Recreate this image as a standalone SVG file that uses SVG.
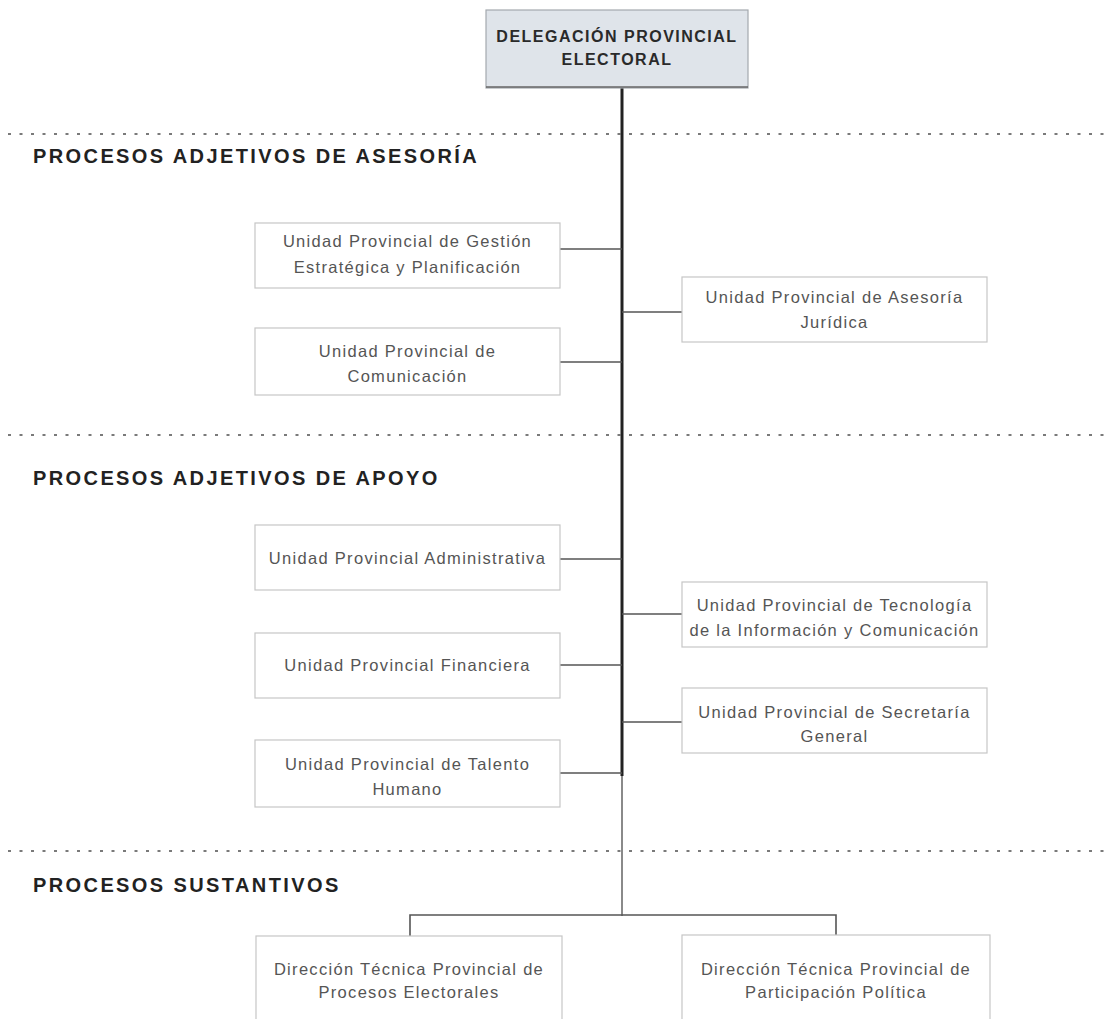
<svg xmlns="http://www.w3.org/2000/svg" width="1110" height="1019" viewBox="0 0 1110 1019">
<style>
.bg{fill:#ffffff}
.box{fill:#ffffff;stroke:#c6c6c6;stroke-width:1.2}
.top{fill:#dfe4ea;stroke:#a4a9ae;stroke-width:1.2}
.t{font-family:"Liberation Sans",Arial,sans-serif;font-size:16.5px;letter-spacing:1.3px;fill:#555;text-anchor:middle}
.tb{font-family:"Liberation Sans",Arial,sans-serif;font-size:16px;font-weight:bold;letter-spacing:1.5px;fill:#2a2a2a;text-anchor:middle}
.h{font-family:"Liberation Sans",Arial,sans-serif;font-size:20px;font-weight:bold;letter-spacing:2.4px;fill:#222}
.div{stroke:#7a7a7a;stroke-width:2;stroke-dasharray:3 8.5;fill:none}
.c{stroke:#555;stroke-width:1.6;fill:none}
.main{stroke:#222;stroke-width:3;fill:none}
.main2{stroke:#8a8a8a;stroke-width:2;fill:none}
</style>
<rect class="bg" x="0" y="0" width="1110" height="1019"/>

<g id="dividers">
<line class="div" x1="8" y1="134" x2="1110" y2="134"/>
<line class="div" x1="8" y1="435" x2="1110" y2="435"/>
<line class="div" x1="8" y1="851" x2="1110" y2="851"/>
</g>

<g id="section-titles">
<text class="h" x="33" y="163">PROCESOS ADJETIVOS DE ASESORÍA</text>
<text class="h" x="33" y="485">PROCESOS ADJETIVOS DE APOYO</text>
<text class="h" x="33" y="892">PROCESOS SUSTANTIVOS</text>
</g>

<g id="connectors">
<line class="main" x1="622" y1="88" x2="622" y2="776"/>
<line class="main2" x1="622" y1="776" x2="622" y2="916"/>
<line class="c" x1="560" y1="249" x2="622" y2="249"/>
<line class="c" x1="622" y1="312" x2="682" y2="312"/>
<line class="c" x1="560" y1="362" x2="622" y2="362"/>
<line class="c" x1="560" y1="559" x2="622" y2="559"/>
<line class="c" x1="622" y1="614" x2="682" y2="614"/>
<line class="c" x1="560" y1="665" x2="622" y2="665"/>
<line class="c" x1="622" y1="722" x2="682" y2="722"/>
<line class="c" x1="560" y1="773" x2="622" y2="773"/>
<polyline class="c" points="410,936 410,915 836,915 836,935"/>
</g>

<g id="n-delegacion">
<rect class="top" x="486" y="10" width="262" height="78"/>
<line x1="486" y1="87" x2="748" y2="87" stroke="#666" stroke-width="1.5"/>
<text class="tb" x="617" y="42">DELEGACIÓN PROVINCIAL</text>
<text class="tb" x="617" y="65">ELECTORAL</text>
</g>

<g id="n-gestion">
<rect class="box" x="255" y="223" width="305" height="65"/>
<text class="t" x="407.5" y="247">Unidad Provincial de Gestión</text>
<text class="t" x="407.5" y="273">Estratégica y Planificación</text>
</g>

<g id="n-comunicacion">
<rect class="box" x="255" y="328" width="305" height="67"/>
<text class="t" x="407.5" y="357">Unidad Provincial de</text>
<text class="t" x="407.5" y="382">Comunicación</text>
</g>

<g id="n-juridica">
<rect class="box" x="682" y="277" width="305" height="65"/>
<text class="t" x="834.5" y="303">Unidad Provincial de Asesoría</text>
<text class="t" x="834.5" y="328">Jurídica</text>
</g>

<g id="n-administrativa">
<rect class="box" x="255" y="525" width="305" height="65"/>
<text class="t" x="407.5" y="564">Unidad Provincial Administrativa</text>
</g>

<g id="n-tecnologia">
<rect class="box" x="682" y="582" width="305" height="65"/>
<text class="t" x="834.5" y="611">Unidad Provincial de Tecnología</text>
<text class="t" x="834.5" y="636">de la Información y Comunicación</text>
</g>

<g id="n-financiera">
<rect class="box" x="255" y="633" width="305" height="65"/>
<text class="t" x="407.5" y="671">Unidad Provincial Financiera</text>
</g>

<g id="n-secretaria">
<rect class="box" x="682" y="688" width="305" height="65"/>
<text class="t" x="834.5" y="718">Unidad Provincial de Secretaría</text>
<text class="t" x="834.5" y="742">General</text>
</g>

<g id="n-talento">
<rect class="box" x="255" y="740" width="305" height="67"/>
<text class="t" x="407.5" y="770">Unidad Provincial de Talento</text>
<text class="t" x="407.5" y="795">Humano</text>
</g>

<g id="n-procesos-electorales">
<rect class="box" x="256" y="936" width="306" height="95"/>
<text class="t" x="409" y="975">Dirección Técnica Provincial de</text>
<text class="t" x="409" y="998">Procesos Electorales</text>
</g>

<g id="n-participacion">
<rect class="box" x="682" y="935" width="308" height="96"/>
<text class="t" x="836" y="975">Dirección Técnica Provincial de</text>
<text class="t" x="836" y="998">Participación Política</text>
</g>
</svg>
